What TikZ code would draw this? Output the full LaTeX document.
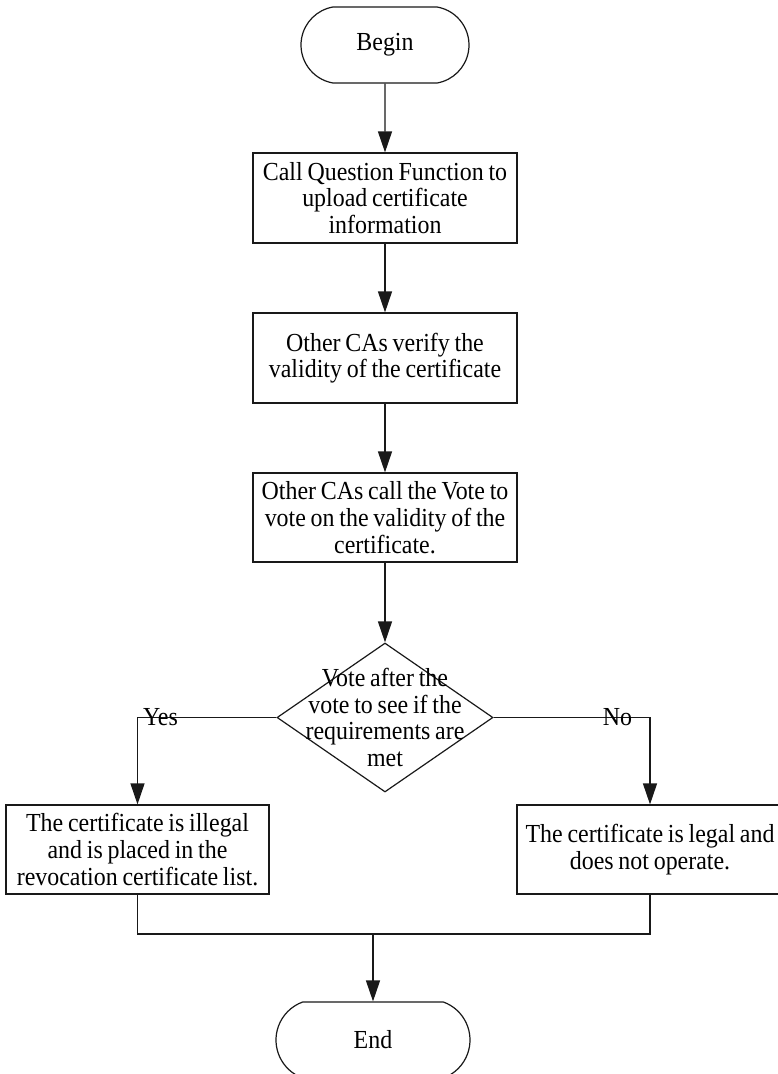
\documentclass[tikz,border=0pt]{standalone}
\usepackage{fontspec}
\setmainfont[FakeStretch=0.92,WordSpace=0.8]{Liberation Serif}
\usetikzlibrary{arrows.meta,shapes.geometric,shapes.misc}
\begin{document}
\begin{tikzpicture}[x=1pt,y=-1pt,
  every node/.style={font=\fontsize{26}{26.7}\selectfont},
  ln/.style={line width=1.2pt,draw=black!90},
  arr/.style={ln,-{Triangle[length=21pt,width=14pt]}},
  termbox/.style={ln,draw,shape=rounded rectangle,minimum height=76pt,inner sep=0pt},
  procbox/.style={ln,draw,rectangle,minimum width=264pt,minimum height=90pt,inner sep=0pt,align=center},
  decbox/.style={ln,draw,diamond,minimum width=216pt,minimum height=149pt,inner sep=0pt},
  lbl/.style={inner sep=0pt,anchor=base}]
\useasboundingbox (0,0) rectangle (778,1074);
\node[termbox,minimum width=168pt,rounded rectangle arc length=160] (begin) at (385,45) {Begin};
\node[procbox] (b1) at (385,198) {Call Question Function to\\upload certificate\\information};
\node[procbox] (b2) at (385,358) {Other CAs verify the\\validity of the certificate};
\node[procbox,minimum height=89pt] (b3) at (385,517.5) {Other CAs call the Vote to\\vote on the validity of the\\certificate.};
\node[decbox] (d) at (385,717.5) {};
\node[inner sep=0pt,align=center] (dt) at (385,717.5) {Vote after the\\vote to see if the\\requirements are\\met};
\node[procbox,minimum width=263pt,minimum height=89pt] (lb) at (137.5,849.5) {The certificate is illegal\\and is placed in the\\revocation certificate list.};
\node[procbox,minimum width=266pt,minimum height=89pt] (rb) at (650,849.5) {The certificate is legal and\\does not operate.};
\node[termbox,minimum width=194pt,rounded rectangle arc length=140] (end) at (373,1040) {End};
\draw[arr] (begin) -- (b1);
\draw[arr] (b1) -- (b2);
\draw[arr] (b2) -- (b3);
\draw[arr] (b3) -- (d);
\draw[arr] (d.west) -| (lb.north);
\draw[arr] (d.east) -| (rb.north);
\node[lbl] (yes) at (160.5,725) {Yes};
\node[lbl] (no) at (617.5,725) {No};
\coordinate (m) at (373,934);
\draw[ln] (lb.south) -- (lb.south |- m) -- (m -| rb.south) -- (rb.south);
\draw[arr] (m) -- (end);
\end{tikzpicture}
\end{document}
